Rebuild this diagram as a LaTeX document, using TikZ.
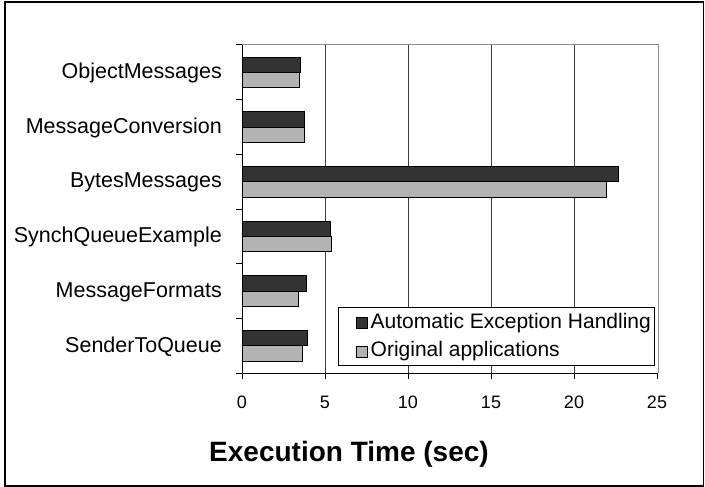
\documentclass[tikz,border=0pt]{standalone}
\usepackage{fontspec}
\usepackage{graphicx}
\setmainfont{Liberation Sans}
\definecolor{darkbar}{HTML}{333333}
\definecolor{lightbar}{HTML}{B3B3B3}
\definecolor{gridgray}{HTML}{3C3C3C}
\definecolor{plotframe}{HTML}{8A8A8A}
\tikzset{
  catlabel/.style={anchor=east, inner sep=0pt, font=\fontsize{21.5}{26}\selectfont},
  ticklabel/.style={anchor=center, inner sep=0pt, font=\fontsize{18}{22}\selectfont},
  barA/.style={draw=black, line width=0.8pt, fill=darkbar},
  barB/.style={draw=black, line width=0.8pt, fill=lightbar},
  gridline/.style={draw=gridgray, line width=1pt},
  axisline/.style={draw=black, line width=1pt},
  legendtext/.style={anchor=west, inner sep=0pt, font=\fontsize{21}{25}\selectfont},
}
\begin{document}
\begin{tikzpicture}[x=1pt, y=-1pt]
  \useasboundingbox (0,0) rectangle (705,487);
  % outer frame
  \draw[black, line width=1.2pt] (5,2) rectangle (703.5,486);
  % plot area frame
  \draw[plotframe, line width=1pt] (242,45) -- (658,45) -- (658,373);
  % vertical gridlines every 5 units (83 px)
  \foreach \k in {1,2,3,4} {
    \draw[gridline] ({242+83*\k},45) -- ({242+83*\k},373);
  }
  % bars: category centre, dark value, light value
  \foreach \c/\a/\b in {72.3/3.53/3.45, 127/3.76/3.76, 181.7/22.67/21.97,
                        236.3/5.30/5.36, 291/3.90/3.41, 345.7/3.96/3.63} {
    \draw[barA] (242,{\c-15.3}) rectangle ({242+16.6*\a},\c);
    \draw[barB] (242,\c) rectangle ({242+16.6*\b},{\c+15.3});
  }
  % axes
  \draw[axisline] (242,45) -- (242,373) -- (658,373);
  \foreach \k in {0,...,6} {
    \draw[axisline] (236,{45+54.667*\k}) -- (242,{45+54.667*\k});
  }
  \foreach \k in {0,...,5} {
    \draw[axisline] ({242+83*\k},373) -- ({242+83*\k},379);
  }
  % category labels
  \node[catlabel] (c1) at (222,73) {ObjectMessages};
  \node[catlabel] (c2) at (222,128) {MessageConversion};
  \node[catlabel] (c3) at (222,182.5) {BytesMessages};
  \node[catlabel] (c4) at (222,237) {SynchQueueExample};
  \node[catlabel] (c5) at (222,292) {MessageFormats};
  \node[catlabel] (c6) at (222,346.5) {SenderToQueue};
  % tick labels
  \foreach \k/\v in {0/0,1/5,2/10,3/15,4/20,5/25} {
    \node[ticklabel] (t\k) at ({242+83*\k},402.5) {\v};
  }
  % legend
  \draw[draw=black, line width=1pt, fill=white] (338.3,307.7) rectangle (654.5,365.5);
  \draw[barA] (356.7,317.5) rectangle (367.2,328.5);
  \draw[barB] (356.7,346) rectangle (367.2,357);
  \node[legendtext] (l1) at (370.5,323) {Automatic Exception Handling};
  \node[legendtext] (l2) at (370.5,351.5) {Original applications};
  % axis title
  \node[inner sep=0pt, font=\fontsize{28}{33}\selectfont\bfseries] (title) at (349,454) {Execution Time (sec)};
\end{tikzpicture}
\end{document}
